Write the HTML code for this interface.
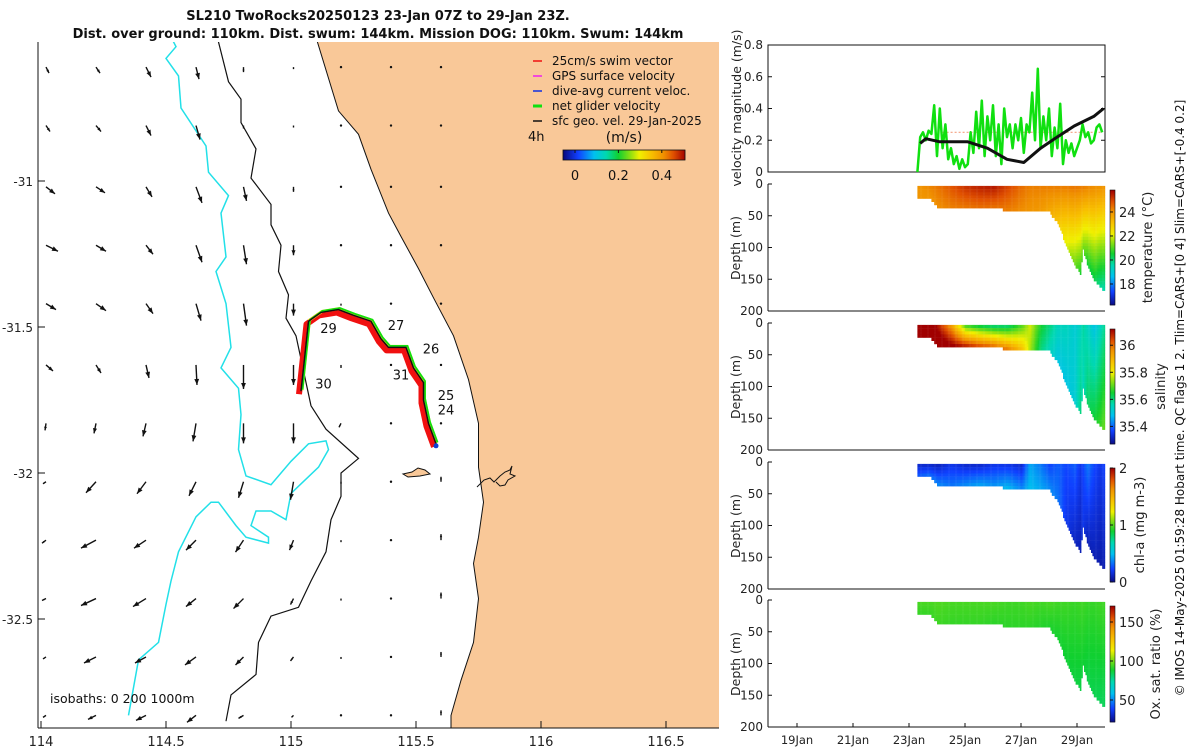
<!DOCTYPE html>
<html><head><meta charset="utf-8">
<style>
html,body{margin:0;padding:0;background:#fff;}
svg{display:block;font-family:"DejaVu Sans","Liberation Sans",sans-serif;}
.t{font-size:12px;fill:#222;}
</style></head>
<body>
<svg id="fig" width="1200" height="750" viewBox="0 0 1200 750" xmlns="http://www.w3.org/2000/svg">
<g font-weight="bold" font-size="13" text-anchor="middle" fill="#111">
<text x="378" y="20">SL210 TwoRocks20250123 23-Jan 07Z to 29-Jan 23Z.</text>
<text x="378" y="38">Dist. over ground: 110km. Dist. swum: 144km. Mission DOG: 110km. Swum: 144km</text>
</g>
<g id="map"></g>
<g id="vel"></g>
<g id="sec"></g>
<text x="1184" y="398" transform="rotate(-90 1184 398)" text-anchor="middle" font-size="12" fill="#111">© IMOS 14-May-2025 01:59:28 Hobart time. QC flags 1  2. Tlim=CARS+[0 4] Slim=CARS+[-0.4 0.2]</text>
</svg>
<script>
// ---------- DATA ----------
var lonTicks=[114,114.5,115,115.5,116,116.5];
var latTicks=[-31,-31.5,-32,-32.5];
var dayTicks=[19,21,23,25,27,29];
var dayLabels=["19Jan","21Jan","23Jan","25Jan","27Jan","29Jan"];
var velTicks=[0,0.2,0.4,0.6,0.8];
var depthTicks=[0,50,100,150,200];
var gridLon=[114.02,114.22,114.42,114.62,114.81,115.01,115.2,115.4,115.6];
var gridLat=[-30.61,-30.81,-31.02,-31.22,-31.42,-31.63,-31.83,-32.03,-32.23,-32.43,-32.63,-32.83];
var gridU=[
[3,4,5,3,0,0,0,0,0],[4,5,5,4,0,0,0,0,0],[9,9,6,6,3,0,0,0,0],[12,10,7,6,3,0,0,0,0],
[10,10,7,5,3,0,0,0,0],[7,5,3,1,0,0,0,0,0],[-1,-2,-3,-3,0,0,-2,0,0],[-3,-10,-9,-7,-5,-3,0,0,0],
[-4,-15,-12,-10,-8,-4,0,0,0],[-4,-15,-13,-10,-10,-3,0,0,0],[-3,-12,-11,-11,-8,-3,0,0,0],[-3,-8,-10,-9,-5,-2,0,0,0]];
var gridV=[
[6,6,10,12,5,2,1,0,0],[6,6,10,14,3,2,1,0,0],[7,6,10,16,14,5,1,1,0],[6,6,9,17,19,10,1,1,0],
[6,7,10,17,22,12,2,1,0],[6,8,13,20,24,20,3,1,0],[7,10,13,18,20,20,4,1,0],[2,11,12,14,16,18,2,1,-5],
[3,8,8,10,12,10,2,1,-6],[2,7,8,8,10,6,2,1,-6],[2,6,6,8,8,4,2,1,-5],[2,4,5,7,3,2,1,1,-5]];
var coastLon=[115.09,115.19,115.27,115.32,115.39,115.44,115.51,115.57,115.65,115.71,115.75,115.75,115.77,115.75,115.73,115.75,115.73,115.68,115.64];
var coastLat=[-30.48,-30.76,-30.84,-30.96,-31.11,-31.19,-31.30,-31.40,-31.53,-31.68,-31.83,-31.98,-32.10,-32.22,-32.31,-32.43,-32.58,-32.71,-32.83];
var isoLon200=[114.70,114.75,114.80,114.80,114.86,114.84,114.92,114.92,114.96,114.95,114.99,114.98,115.02,115.06,115.08,115.14,115.27,115.20,115.20,115.16,115.14,115.08,115.03,114.92,114.87,114.86,114.76,114.74];
var isoLat200=[-30.49,-30.66,-30.72,-30.80,-30.89,-30.99,-31.08,-31.15,-31.22,-31.31,-31.39,-31.47,-31.53,-31.69,-31.77,-31.85,-31.95,-32.00,-32.08,-32.16,-32.27,-32.37,-32.46,-32.49,-32.58,-32.69,-32.76,-32.85];
var isoLon1000=[114.51,114.54,114.50,114.55,114.56,114.66,114.67,114.75,114.72,114.74,114.70,114.74,114.76,114.72,114.79,114.80,114.79,114.82,114.92,115.00,115.07,115.14,115.15,115.11,115.00,114.98,114.92,114.86,114.84,114.91,114.91,114.82,114.78,114.71,114.68,114.62,114.55,114.52,114.50,114.47,114.39,114.35];
var isoLat1000=[-30.49,-30.54,-30.58,-30.64,-30.75,-30.88,-30.97,-31.05,-31.11,-31.26,-31.31,-31.42,-31.57,-31.64,-31.71,-31.80,-31.92,-32.01,-32.04,-31.96,-31.90,-31.89,-31.92,-31.98,-32.07,-32.16,-32.13,-32.13,-32.18,-32.22,-32.24,-32.22,-32.18,-32.10,-32.10,-32.15,-32.27,-32.37,-32.45,-32.58,-32.64,-32.83];
var trackLon=[115.04,115.07,115.12,115.19,115.25,115.32,115.36,115.39,115.46,115.49,115.53,115.53,115.55,115.58];
var trackLat=[-31.72,-31.48,-31.45,-31.44,-31.46,-31.48,-31.54,-31.57,-31.57,-31.64,-31.69,-31.75,-31.83,-31.90];
var dayLabLon=[115.15,115.42,115.56,115.44,115.13,115.62,115.62];
var dayLabLat=[-31.52,-31.51,-31.59,-31.68,-31.71,-31.75,-31.80];
var dayLabTxt=["29","27","26","31","30","25","24"];
var blackDay=[23.4,23.6,24.1,25.1,25.8,26.5,27.1,27.7,28.2,28.9,29.6,29.95];
var blackVel=[0.18,0.21,0.19,0.19,0.15,0.08,0.06,0.15,0.21,0.29,0.35,0.40];
var greenStart=23.3, greenStep=0.1;
var greenVel=[0.0,0.22,0.25,0.2,0.26,0.24,0.42,0.1,0.4,0.15,0.3,0.08,0.15,0.05,0.1,0.02,0.08,0.03,0.05,0.25,0.12,0.38,0.15,0.45,0.1,0.35,0.2,0.42,0.1,0.3,0.05,0.4,0.22,0.3,0.15,0.3,0.2,0.34,0.12,0.3,0.25,0.5,0.2,0.65,0.15,0.35,0.2,0.4,0.1,0.28,0.15,0.43,0.05,0.2,0.12,0.18,0.1,0.15,0.2,0.3,0.22,0.25,0.18,0.2,0.28,0.3,0.25];
var refVel=0.25;
var secDay=[23.3,23.7,24.0,24.5,25.0,25.5,26.0,26.5,27.0,27.3,27.7,28.0,28.3,28.6,28.9,29.1,29.2,29.35,29.6,29.8,30.0];
var secBottom=[20,20,35,36,35,35,34,40,42,40,40,42,60,95,125,140,100,125,150,160,168];
var tempTop=[24.0,24.2,24.4,24.8,25.2,25.4,25.5,25.0,24.5,24.3,24.3,24.3,24.3,24.3,24.4,24.3,24.3,24.2,24.1,24.0,24.0];
var tempBot=[24.0,24.0,24.1,24.3,24.4,24.5,24.5,24.3,24.1,24.0,23.9,23.6,23.0,22.0,21.2,20.6,21.2,20.5,20.3,19.8,19.5];
var salTop=[36.2,36.2,36.1,35.95,35.7,35.65,35.62,35.62,35.7,35.78,35.65,35.6,35.55,35.55,35.52,35.55,35.58,35.55,35.5,35.55,35.6];
var salBot=[36.2,36.2,36.2,36.15,36.1,36.05,36.0,36.0,35.9,35.75,35.6,35.55,35.5,35.5,35.52,35.6,35.55,35.62,35.65,35.68,35.72];
var chlTop=[0.15,0.15,0.12,0.2,0.15,0.15,0.2,0.2,0.15,0.45,0.35,0.25,0.3,0.25,0.3,0.2,0.25,0.35,0.25,0.2,0.25];
var chlBot=[0.3,0.35,0.4,0.35,0.4,0.45,0.4,0.5,0.4,0.5,0.45,0.4,0.35,0.2,0.12,0.1,0.2,0.1,0.1,0.08,0.1];
var oxTop=[95,95,96,95,95,95,95,94,94,95,94,95,94,94,93,94,94,93,93,94,94];
var oxBot=[93,93,94,93,93,93,92,92,92,92,91,90,89,88,87,86,88,86,85,84,84];

// ---------- HELPERS ----------
var NS="http://www.w3.org/2000/svg";
function mk(parent,tag,attrs){var e=document.createElementNS(NS,tag);for(var k in attrs)e.setAttribute(k,attrs[k]);parent.appendChild(e);return e;}
var cmS=[0,0.12,0.25,0.35,0.45,0.55,0.62,0.72,0.82,0.9,1.0];
var cmC=[[10,10,128],[16,64,255],[0,192,240],[0,216,176],[16,208,48],[144,224,16],[240,240,0],[248,192,0],[240,144,0],[224,80,0],[160,0,0]];
function jet(t){t=Math.max(0,Math.min(1,t));for(var i=1;i<cmS.length;i++){if(t<=cmS[i]){var f=(t-cmS[i-1])/(cmS[i]-cmS[i-1]);var a=cmC[i-1],b=cmC[i];
 return "rgb("+Math.round(a[0]+f*(b[0]-a[0]))+","+Math.round(a[1]+f*(b[1]-a[1]))+","+Math.round(a[2]+f*(b[2]-a[2]))+")";}}return "rgb(160,0,0)";}
function mx(lon){return 41+250*(lon-114);}
function my(lat){return 181+292*(-31-lat);}
function dx(d){return 797+28*(d-19);}
function interp(xs,ys,x){if(x<=xs[0])return ys[0];for(var i=1;i<xs.length;i++){if(x<=xs[i]){var f=(x-xs[i-1])/(xs[i]-xs[i-1]);return ys[i-1]+f*(ys[i]-ys[i-1]);}}return ys[ys.length-1];}
function ptsStr(lons,lats){var s=[];for(var i=0;i<lons.length;i++)s.push(mx(lons[i]).toFixed(1)+","+my(lats[i]).toFixed(1));return s.join(" ");}

// ---------- MAP ----------
var map=document.getElementById("map");
var clip=mk(map,"clipPath",{id:"mapclip"});mk(clip,"rect",{x:38,y:42,width:681,height:686});
var mg=mk(map,"g",{"clip-path":"url(#mapclip)"});
var landPts="313,42 "+ptsStr(coastLon,coastLat)+" 451,740 730,740 730,30 313,30";
var land=mk(mg,"polygon",{points:landPts,fill:"#f9c898",stroke:"#111","stroke-width":1});


var isl=mk(mg,"path",{d:"M403,474 L412,472 L418,468 L425,470 L430,474 L420,476 L408,477 Z",fill:"#f9c898",stroke:"#111","stroke-width":1});


var est=mk(mg,"polyline",{points:"477,487 484,480 490,478 494,482 500,476 505,472 510,470 512,466 510,474 515,476 508,480 505,485 500,486 496,482",fill:"none",stroke:"#111","stroke-width":1});


var i200=mk(mg,"polyline",{points:ptsStr(isoLon200,isoLat200),fill:"none",stroke:"#111","stroke-width":1.2});


var i1000=mk(mg,"polyline",{points:ptsStr(isoLon1000,isoLat1000),fill:"none",stroke:"#22e0e8","stroke-width":1.5});


for(var r=0;r<gridLat.length;r++){for(var c=0;c<gridLon.length;c++){
 var x0=mx(gridLon[c]),y0=my(gridLat[r]),u=gridU[r][c],v=gridV[r][c];
 var L=Math.sqrt(u*u+v*v);var ag=mk(mg,"g",{});
 
 
 if(L<1.5){mk(ag,"circle",{cx:x0,cy:y0,r:1.2,fill:"#111"});continue;}
 var x1=x0+u,y1=y0+v;mk(ag,"line",{x1:x0,y1:y0,x2:x1,y2:y1,stroke:"#111","stroke-width":1.4});
 var ux=u/L,uy=v/L,h=Math.min(6,L*0.5);
 mk(ag,"polygon",{points:x1+","+y1+" "+(x1-h*ux-h*0.4*uy)+","+(y1-h*uy+h*0.4*ux)+" "+(x1-h*ux+h*0.4*uy)+","+(y1-h*uy-h*0.4*ux),fill:"#111"});
}}
var tp=ptsStr(trackLon,trackLat);
var tr1=mk(mg,"polyline",{points:tp,fill:"none",stroke:"#f01010","stroke-width":6,"stroke-linejoin":"round","transform":"translate(-2,3)"});


var tr2=mk(mg,"polyline",{points:tp,fill:"none",stroke:"#f0e020","stroke-width":3,"transform":"translate(1,-1)"});


var tr3=mk(mg,"polyline",{points:tp,fill:"none",stroke:"#10e010","stroke-width":1.8,"transform":"translate(1.5,-1.5)"});


var tr4=mk(mg,"polyline",{points:tp,fill:"none",stroke:"#111","stroke-width":1.5});


mk(mg,"circle",{cx:mx(trackLon[trackLon.length-1]),cy:my(trackLat[trackLat.length-1])+2,r:2.5,fill:"#1040d0"});
for(var i=0;i<dayLabTxt.length;i++){var dt=mk(mg,"text",{x:mx(dayLabLon[i]),y:my(dayLabLat[i]),"text-anchor":"middle","font-size":13,fill:"#111"});dt.textContent=dayLabTxt[i];
 
 }
mk(map,"line",{x1:38,y1:42,x2:38,y2:728,stroke:"#111","stroke-width":1});
mk(map,"line",{x1:38,y1:728,x2:719,y2:728,stroke:"#111","stroke-width":1});
lonTicks.forEach(function(t){var x=mx(t);mk(map,"line",{x1:x,y1:728,x2:x,y2:721,stroke:"#111"});
 var tx=mk(map,"text",{x:x,y:746,"text-anchor":"middle","font-size":13,fill:"#222"});tx.textContent=String(t);
 
 });
latTicks.forEach(function(t){var y=my(t);mk(map,"line",{x1:38,y1:y,x2:45,y2:y,stroke:"#111"});
 var tx=mk(map,"text",{x:33,y:y+5,"text-anchor":"end","font-size":12,fill:"#222"});tx.textContent=String(t);
 
 });
var iso=mk(map,"text",{x:50,y:703,"font-size":12.5,fill:"#111","xml:space":"preserve"});iso.textContent="isobaths: 0    200  1000m";


var lg=mk(map,"g",{});


var legTxt=["25cm/s swim vector","GPS surface velocity","dive-avg current veloc.","net glider velocity","sfc geo. vel. 29-Jan-2025"];
var legCol=["#f01010","#f020f0","#1030e0","#10e010","#111"];
for(var i=0;i<5;i++){var y=61+15*i;mk(lg,"line",{x1:533,y1:y,x2:542,y2:y,stroke:legCol[i],"stroke-width":i==3?3:1.5});
 var lt=mk(lg,"text",{x:552,y:y+4,"font-size":12,fill:"#111"});lt.textContent=legTxt[i];
 
 }
var t4=mk(lg,"text",{x:528,y:141,"font-size":13,fill:"#111"});t4.textContent="4h";
var ms=mk(lg,"text",{x:624,y:142,"font-size":14,"text-anchor":"middle",fill:"#111"});ms.textContent="(m/s)";
var cbTicks=[0,0.2,0.4];
function cbx(v){return 575+217*v;}
for(var px=563;px<685;px++){var v=(px-575)/217;mk(lg,"rect",{x:px,y:150,width:1.2,height:10,fill:jet((v+0.055)/0.562)});}
mk(lg,"rect",{x:563,y:150,width:122,height:10,fill:"none",stroke:"#111","stroke-width":0.8});
cbTicks.forEach(function(t){mk(lg,"line",{x1:cbx(t),y1:150,x2:cbx(t),y2:153,stroke:"#111"});
 var ct=mk(lg,"text",{x:cbx(t),y:180,"text-anchor":"middle","font-size":13,fill:"#111"});ct.textContent=String(t);
 
 });

// ---------- VELOCITY PANEL ----------
var vel=document.getElementById("vel");
var X0=768,X1=1105;
function vy(v){return 172-127*v/0.8;}
mk(vel,"rect",{x:X0,y:45,width:X1-X0,height:127,fill:"#fff",stroke:"#111","stroke-width":1});
velTicks.forEach(function(t){var y=vy(t);mk(vel,"line",{x1:X0,y1:y,x2:X0+4,y2:y,stroke:"#111"});mk(vel,"line",{x1:X1,y1:y,x2:X1-4,y2:y,stroke:"#111"});
 var tx=mk(vel,"text",{x:763,y:y+4,"text-anchor":"end","class":"t"});tx.textContent=String(t);
 
 });
var ref=mk(vel,"line",{x1:dx(24.2),y1:vy(refVel),x2:dx(29.9),y2:vy(refVel),stroke:"#f4a080","stroke-width":1.2,"stroke-dasharray":"2 2"});


var gp=[];for(var i=0;i<greenVel.length;i++)gp.push(dx(greenStart+i*greenStep).toFixed(1)+","+vy(greenVel[i]).toFixed(1));
var gl=mk(vel,"polyline",{points:gp.join(" "),fill:"none",stroke:"#10e010","stroke-width":2.5,"stroke-linejoin":"round"});


var bp=[];for(var i=0;i<blackDay.length;i++)bp.push(dx(blackDay[i]).toFixed(1)+","+vy(blackVel[i]).toFixed(1));
var bl=mk(vel,"polyline",{points:bp.join(" "),fill:"none",stroke:"#111","stroke-width":3,"stroke-linejoin":"round"});


var vl=mk(vel,"text",{x:741,y:108,transform:"rotate(-90 741 108)","text-anchor":"middle","font-size":12.5,fill:"#222"});vl.textContent="velocity magnitude (m/s)";



// ---------- SECTIONS ----------
var sec=document.getElementById("sec");
var panels=[
 {top:184,name:"temperature",top_:tempTop,bot:tempBot,vmin:16.25,vmax:25.83,cb:[190,305],ticks:[24,22,20,18],label:"temperature (°C)",lx:1152},
 {top:323,name:"salinity",top_:salTop,bot:salBot,vmin:35.27,vmax:36.12,cb:[329,444],ticks:[36,35.8,35.6,35.4],label:"salinity",lx:1165},
 {top:462,name:"chlorophyll",top_:chlTop,bot:chlBot,vmin:0,vmax:2,cb:[468,582],ticks:[2,1,0],label:"chl-a (mg m-3)",lx:1144},
 {top:600,name:"oxygen",top_:oxTop,bot:oxBot,vmin:21.8,vmax:170.5,cb:[606,722],ticks:[150,100,50],label:"Ox. sat. ratio (%)",lx:1160}
];
panels.forEach(function(p,pi){
 var g=mk(sec,"g",{});
 
 
 var H=127;function py(d){return p.top+H*d/200;}
 mk(g,"rect",{x:X0,y:p.top,width:X1-X0,height:H,fill:"#fff"});
 for(var d=secDay[0];d<30.0;d+=0.05){
  var bot=interp(secDay,secBottom,d),vt=interp(secDay,p.top_,d),vb=interp(secDay,p.bot,d);
  for(var z=3;z<bot;z+=5){var f=(z-3)/Math.max(1,bot-3);var v=vt+(vb-vt)*f;
   mk(g,"rect",{x:dx(d).toFixed(1),y:py(z).toFixed(1),width:1.6,height:3.4,fill:jet((v-p.vmin)/(p.vmax-p.vmin))});}
 }
 mk(g,"line",{x1:X0,y1:p.top,x2:X0,y2:p.top+H,stroke:"#111"});
 mk(g,"line",{x1:X0,y1:p.top+H,x2:X1,y2:p.top+H,stroke:"#111"});
 depthTicks.forEach(function(t){var y=py(t);mk(g,"line",{x1:X0,y1:y,x2:X0+4,y2:y,stroke:"#111"});
  var tx=mk(g,"text",{x:763,y:y+4,"text-anchor":"end","class":"t"});tx.textContent=String(t);
  
  });
 var yl=mk(g,"text",{x:740,y:p.top+64,transform:"rotate(-90 740 "+(p.top+64)+")","text-anchor":"middle","font-size":12.5,fill:"#222"});yl.textContent="Depth (m)";
 
 
 var c0=p.cb[0],c1=p.cb[1];
 for(var y=c0;y<c1;y++){mk(g,"rect",{x:1110,y:y,width:5,height:1.3,fill:jet(1-(y-c0)/(c1-c0))});}
 mk(g,"rect",{x:1110,y:c0,width:5,height:c1-c0,fill:"none",stroke:"#111","stroke-width":0.6});
 p.ticks.forEach(function(t){var y=c1-(t-p.vmin)/(p.vmax-p.vmin)*(c1-c0);
  mk(g,"line",{x1:1110,y1:y,x2:1113,y2:y,stroke:"#111"});
  var tx=mk(g,"text",{x:1119,y:y+5,"font-size":13,fill:"#222"});tx.textContent=String(t);
  
  });
 var cm=(c0+c1)/2;
 var cl=mk(g,"text",{x:p.lx,y:cm,transform:"rotate(-90 "+p.lx+" "+cm+")","text-anchor":"middle","font-size":13,fill:"#222"});cl.textContent=p.label;
 
 
 if(pi==3){dayTicks.forEach(function(t,i){var x=dx(t);mk(g,"line",{x1:x,y1:727,x2:x,y2:723,stroke:"#111"});
  var tx=mk(g,"text",{x:x,y:744,"text-anchor":"middle","font-size":11.5,fill:"#222"});tx.textContent=dayLabels[i];
  
  });}
});
</script>
</body></html>
